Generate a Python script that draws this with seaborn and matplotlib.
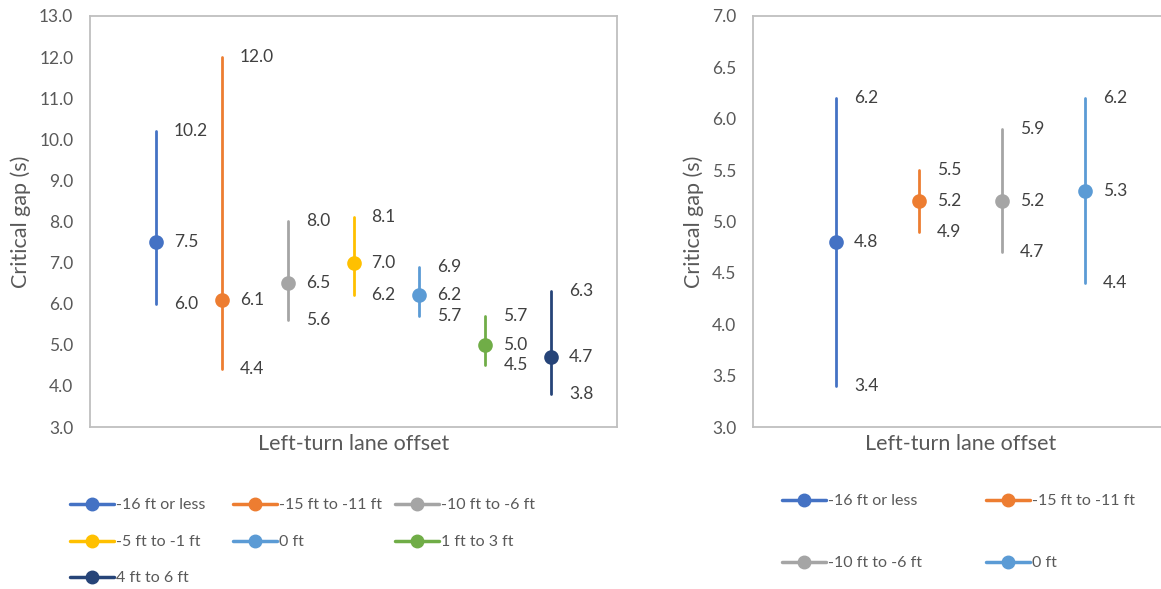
import numpy as np
import pandas as pd
import seaborn as sns
import matplotlib.pyplot as plt
from matplotlib.lines import Line2D
from matplotlib.ticker import StrMethodFormatter

W, H = 1161, 589

# chart values
left_groups = ['-16 ft or less', '-15 ft to -11 ft', '-10 ft to -6 ft', '-5 ft to -1 ft',
               '0 ft', '1 ft to 3 ft', '4 ft to 6 ft']
left_mean = [7.5, 6.1, 6.5, 7.0, 6.2, 5.0, 4.7]
left_low = [6.0, 4.4, 5.6, 6.2, 5.7, 4.5, 3.8]
left_high = [10.2, 12.0, 8.0, 8.1, 6.9, 5.7, 6.3]

right_groups = ['-16 ft or less', '-15 ft to -11 ft', '-10 ft to -6 ft', '0 ft']
right_mean = [4.8, 5.2, 5.2, 5.3]
right_low = [3.4, 4.9, 4.7, 4.4]
right_high = [6.2, 5.5, 5.9, 6.2]

palette = {
    '-16 ft or less': '#4472C4',
    '-15 ft to -11 ft': '#ED7D31',
    '-10 ft to -6 ft': '#A5A5A5',
    '-5 ft to -1 ft': '#FFC000',
    '0 ft': '#5B9BD5',
    '1 ft to 3 ft': '#70AD47',
    '4 ft to 6 ft': '#264478',
}

sns.set_theme(style='white')
plt.rcParams['font.family'] = ['Lato', 'DejaVu Sans']

TICK_COLOR = '#595959'
LABEL_COLOR = '#404040'
FRAME_COLOR = '#BFBFBF'
FS = 12.5      # ticks and data labels
LEG_FS = 11.5  # legend text
AX_FS = 15.5   # axis titles


def long_frame(groups, low, mean, high):
    rows = []
    for g, lo, m, hi in zip(groups, low, mean, high):
        for v in (lo, m, hi):
            rows.append({'group': g, 'value': v})
    return pd.DataFrame(rows)


def draw_panel(ax, groups, low, mean, high, yticks, xlim):
    df = long_frame(groups, low, mean, high)
    # median of (low, mean, high) is the mean; 0-100 percentile interval spans low..high
    sns.pointplot(data=df, x='group', y='value', hue='group', order=groups,
                  hue_order=groups, palette=palette, estimator='median',
                  errorbar=('pi', 100), linestyle='none', markers='o',
                  markersize=8.5, err_kws={'linewidth': 2.0}, legend=False, ax=ax)
    for i in range(len(groups)):
        for v in (low[i], mean[i], high[i]):
            ax.annotate(f'{v:.1f}', (i, v), xytext=(13, 0), textcoords='offset points',
                        va='center', ha='left', fontsize=FS, color=LABEL_COLOR)
    ax.set_xlim(*xlim)
    ax.set_ylim(yticks[0], yticks[-1])
    ax.set_yticks(yticks)
    ax.yaxis.set_major_formatter(StrMethodFormatter('{x:.1f}'))
    ax.set_xticks([])
    ax.tick_params(axis='y', length=0, pad=12, labelsize=FS, labelcolor=TICK_COLOR)
    ax.set_xlabel('Left-turn lane offset', fontsize=AX_FS, color=TICK_COLOR, labelpad=5)
    ax.set_ylabel('Critical gap (s)', fontsize=AX_FS, color=TICK_COLOR, labelpad=6)
    for s in ax.spines.values():
        s.set_visible(True)
        s.set_color(FRAME_COLOR)
        s.set_linewidth(1.3)


def add_entry(fig, label, x, y):
    handle = Line2D([], [], color=palette[label], lw=2.5, marker='o', markersize=9)
    leg = fig.legend([handle], [label], loc='center left',
                     bbox_to_anchor=(x / W, 1 - y / H), frameon=False,
                     borderpad=0, borderaxespad=0, handlelength=2.75,
                     handletextpad=0.15, fontsize=LEG_FS, labelcolor=TICK_COLOR)
    return leg


fig = plt.figure(figsize=(W / 100, H / 100), dpi=100)

ax1 = fig.add_axes([90 / W, 1 - 427 / H, 527 / W, 411 / H])
draw_panel(ax1, left_groups, left_low, left_mean, left_high,
           np.arange(3.0, 13.01, 1.0), (-1, 7))

ax2 = fig.add_axes([753 / W, 1 - 427 / H, 415 / W, 411 / H])
draw_panel(ax2, right_groups, right_low, right_mean, right_high,
           np.arange(3.0, 7.01, 0.5), (-1, 4))

# legends laid out like the Excel grid
left_cols = [70, 233, 395]
left_rows = [505, 542, 578]
for k, g in enumerate(left_groups):
    add_entry(fig, g, left_cols[k % 3], left_rows[k // 3])

right_cols = [782, 986]
right_rows = [501, 563]
for k, g in enumerate(right_groups):
    add_entry(fig, g, right_cols[k % 2], right_rows[k // 2])

fig.savefig('out.png', dpi=100)
